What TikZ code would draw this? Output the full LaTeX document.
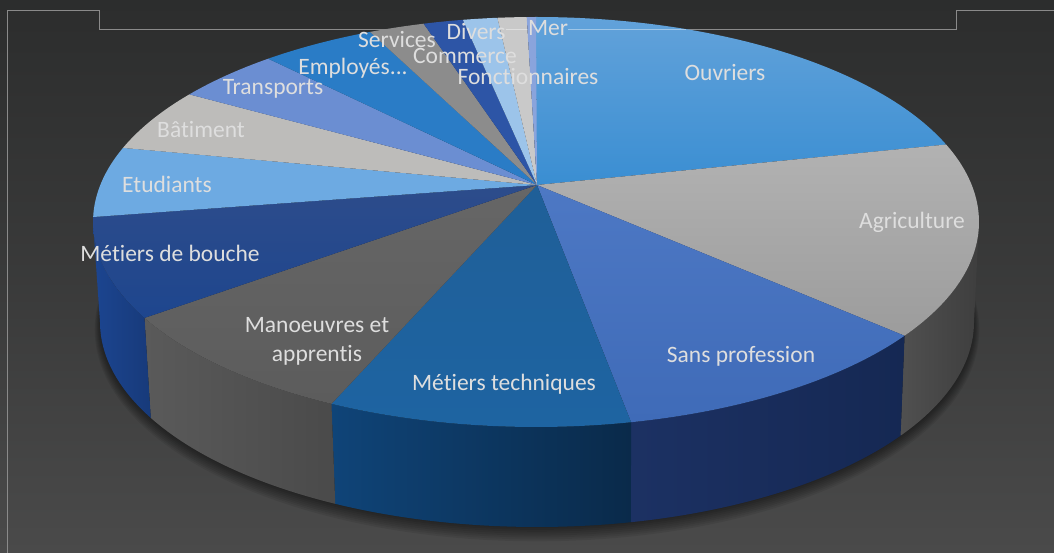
\documentclass[tikz,border=0pt]{standalone}
\usepackage{fontspec}
\setmainfont{Carlito}[Ligatures=NoCommon]
\definecolor{bgtop}{HTML}{2C2D2D}
\definecolor{bgbot}{HTML}{4A4A4A}
\definecolor{framecol}{HTML}{8A8A8A}
\definecolor{labcol}{HTML}{DEDEDE}
\definecolor{cOuvT}{HTML}{62A2DA}
\definecolor{cOuvB}{HTML}{3A8ED2}
\definecolor{cAgrT}{HTML}{B2B2B2}
\definecolor{cAgrB}{HTML}{9C9C9C}
\definecolor{cSanT}{HTML}{4D78C4}
\definecolor{cSanB}{HTML}{3F6BB8}
\definecolor{cMetT}{HTML}{1F5F98}
\definecolor{cMetB}{HTML}{1E64A2}
\definecolor{cManT}{HTML}{666666}
\definecolor{cManB}{HTML}{5C5C5C}
\definecolor{cBouT}{HTML}{2D4C8B}
\definecolor{cBouB}{HTML}{1E468E}
\definecolor{cEtu}{HTML}{6DAAE2}
\definecolor{cBat}{HTML}{BDBCBA}
\definecolor{cTra}{HTML}{6B8ED2}
\definecolor{cEmp}{HTML}{2A7CC6}
\definecolor{cSer}{HTML}{8C8C8C}
\definecolor{cCom}{HTML}{2D55A6}
\definecolor{cDiv}{HTML}{9CC4EA}
\definecolor{cFon}{HTML}{C9C9C9}
\definecolor{cMer}{HTML}{8AA4DC}
\definecolor{sAgrL}{HTML}{505050}
\definecolor{sAgrR}{HTML}{3E3E3E}
\definecolor{sSanL}{HTML}{1C3163}
\definecolor{sSanR}{HTML}{152853}
\definecolor{sMetL}{HTML}{0F4478}
\definecolor{sMetR}{HTML}{0A2A4A}
\definecolor{sManL}{HTML}{5A5A5A}
\definecolor{sManR}{HTML}{4A4A4A}
\definecolor{sBouL}{HTML}{1C4590}
\definecolor{sBouR}{HTML}{173A7A}
\newcommand\pieTop[3]{\path[#3] (apex) -- ({536+443*cos(#1)},{-222+205*sin(#1)}) arc[start angle=#1,end angle=#2,x radius=443,y radius=205] -- cycle;}
\newcommand\pieSide[3]{\path[#3] ({536+443*cos(#1)},{-222+205*sin(#1)}) arc[start angle=#1,end angle=#2,x radius=443,y radius=205] -- ({537+437*cos(#2)},{-322+205*sin(#2)}) arc[start angle=#2,end angle=#1,x radius=437,y radius=205] -- cycle;}
\tikzset{
  lab/.style={text=labcol, font=\fontsize{23.5}{29}\selectfont, inner sep=0pt, align=center},
  frameline/.style={draw=framecol, line width=1pt},
  overline/.style={draw=white, draw opacity=0.4, line width=1pt}
}
\begin{document}
\begin{tikzpicture}[x=1pt,y=1pt]
\useasboundingbox (0,0) rectangle (1054,-553);
\shade[top color=bgtop, bottom color=bgbot, middle color=bgtop!55!bgbot] (0,0) rectangle (1054,-553);
% frame
\draw[frameline] (7,-553) -- (7,-10.5) -- (99.5,-10.5) -- (99.5,-29.5) -- (956.5,-29.5) -- (956.5,-10.5) -- (1054,-10.5);
\coordinate (apex) at (537,-185);
% soft shadow
\foreach \k in {0,...,7}{
  \fill[black, opacity=0.07] (537,{-324-0.8*\k}) ellipse [x radius={436+0.9*\k}, y radius={204+1.1*\k}];
}
% side faces
\pieSide{-33.7}{0}{left color=sAgrL, right color=sAgrR}
\pieSide{-77.6}{-33.7}{left color=sSanL, right color=sSanR}
\pieSide{-117.5}{-77.6}{left color=sMetL, right color=sMetR}
\pieSide{-152.1}{-117.5}{left color=sManL, right color=sManR}
\pieSide{-180}{-152.1}{left color=sBouL, right color=sBouR}
% top faces
\pieTop{90}{22.2}{top color=cOuvT, bottom color=cOuvB}
\pieTop{22.2}{-33.7}{top color=cAgrT, bottom color=cAgrB}
\pieTop{-33.7}{-77.6}{top color=cSanT, bottom color=cSanB}
\pieTop{-77.6}{-117.5}{top color=cMetT, bottom color=cMetB}
\pieTop{-117.5}{-152.1}{top color=cManT, bottom color=cManB}
\pieTop{-152.1}{-181.4}{top color=cBouT, bottom color=cBouB}
\pieTop{-181.4}{-201.2}{fill=cEtu}
\pieTop{-201.2}{-218.5}{fill=cBat}
\pieTop{-218.5}{-232.8}{fill=cTra}
\pieTop{-232.8}{-248}{fill=cEmp}
\pieTop{-248}{-255.3}{fill=cSer}
\pieTop{-255.3}{-260.5}{fill=cCom}
\pieTop{-260.5}{-265}{fill=cDiv}
\pieTop{-265}{-268.8}{fill=cFon}
\pieTop{-268.8}{-270}{fill=cMer}
% frame line seen over the pie
\draw[overline] (506,-29.5) -- (527,-29.5);
\draw[overline] (568,-29.5) -- (686,-29.5);
% labels
\node[lab] (ouv) at (725,-73) {Ouvriers};
\node[lab] (agr) at (912,-222) {Agriculture};
\node[lab] (san) at (741,-356) {Sans profession};
\node[lab] (met) at (504,-384) {Métiers techniques};
\node[lab] (man) at (317,-341) {Manoeuvres et\\apprentis};
\node[lab] (bou) at (170,-253) {Métiers de bouche};
\node[lab] (etu) at (167,-184) {Etudiants};
\node[lab] (bat) at (201,-130) {Bâtiment};
\node[lab] (tra) at (273,-89) {Transports};
\node[lab] (emp) at (353,-68) {Employés...};
\node[lab] (ser) at (397,-40) {Services};
\node[lab] (div) at (476,-32) {Divers};
\node[lab] (com) at (465,-56) {Commerce};
\node[lab] (fon) at (528,-76.5) {Fonctionnaires};
\node[lab] (mer) at (548,-28) {Mer};
\end{tikzpicture}
\end{document}
